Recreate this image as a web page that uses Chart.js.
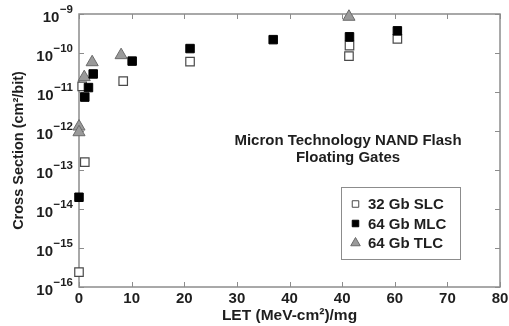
<!DOCTYPE html>
<html><head><meta charset="utf-8">
<script src="https://cdn.jsdelivr.net/npm/chart.js@4/dist/chart.umd.min.js"></script>
<style>html,body{margin:0;padding:0;background:#fff}</style>
</head><body>
<canvas id="c" width="509" height="326"></canvas>
<script>
// ---- data ----
const xTickValues = [0, 10, 20, 30, 40, 50, 60, 70, 80];
const xTickLabels = ['0', '10', '20', '30', '40', '40', '60', '70', '80'];
const yTickExponents = [-16, -15, -14, -13, -12, -11, -10, -9];

const seriesNames = ['32 Gb SLC', '64 Gb MLC', '64 Gb TLC'];

const slcLET = [0, 1.1, 0.6, 8.4, 21.1, 51.3, 51.4, 60.5];
const slcXS  = [2.4e-16, 1.6e-13, 1.4e-11, 1.9e-11, 6e-11, 8.3e-11, 1.55e-10, 2.3e-10];

const mlcLET = [0, 1.1, 1.8, 2.7, 10.1, 21.1, 36.9, 51.4, 60.5];
const mlcXS  = [2.0e-14, 7.4e-12, 1.3e-11, 2.9e-11, 6.2e-11, 1.3e-10, 2.2e-10, 2.6e-10, 3.7e-10];

const tlcLET = [0, 0, 1.0, 2.5, 8.0, 51.3];
const tlcXS  = [1.3e-12, 9.3e-13, 2.4e-11, 5.8e-11, 8.8e-11, 8.5e-10];

const noteLines = ['Micron Technology NAND Flash', 'Floating Gates'];
const xTitle = 'LET (MeV-cm\u00B2)/mg';
const yTitle = 'Cross Section (cm\u00B2/bit)';

const pts = (xs, ys) => xs.map((v, i) => ({x: v, y: ys[i]}));
const FONT = '"Liberation Sans", Arial, Helvetica, sans-serif';
const TXT = '#1e1e1e';

const decor = {
  id: 'decor',
  beforeDatasetsDraw(chart) {
    const {ctx, chartArea: a, scales: {x, y}} = chart;
    ctx.save();
    ctx.strokeStyle = '#8c8c8c';
    ctx.lineWidth = 1.5;
    ctx.strokeRect(a.left, a.top, a.right - a.left, a.bottom - a.top);
    ctx.lineWidth = 1;
    const L = 5;
    ctx.beginPath();
    xTickValues.forEach(v => {
      const px = Math.round(x.getPixelForValue(v)) + 0.5;
      ctx.moveTo(px, a.bottom); ctx.lineTo(px, a.bottom - L);
      ctx.moveTo(px, a.top); ctx.lineTo(px, a.top + L);
    });
    yTickExponents.forEach(e => {
      const py = Math.round(y.getPixelForValue(Math.pow(10, e))) + 0.5;
      ctx.moveTo(a.left, py); ctx.lineTo(a.left + L, py);
      ctx.moveTo(a.right, py); ctx.lineTo(a.right - L, py);
    });
    ctx.stroke();
    ctx.restore();
  },
  afterDraw(chart) {
    const {ctx, chartArea: a, scales: {x, y}} = chart;
    ctx.save();
    ctx.fillStyle = TXT;
    ctx.textBaseline = 'middle';
    // x tick labels
    ctx.font = 'bold 15px ' + FONT;
    ctx.textAlign = 'center';
    xTickValues.forEach((v, i) => {
      ctx.fillText(xTickLabels[i], x.getPixelForValue(v), a.bottom + 11.5);
    });
    // y tick labels with superscript exponents
    yTickExponents.forEach(e => {
      const py = y.getPixelForValue(Math.pow(10, e));
      const sup = '\u2212' + Math.abs(e);
      ctx.font = 'bold 11.5px ' + FONT;
      const sw = ctx.measureText(sup).width;
      const right = a.left - 6;
      ctx.textAlign = 'left';
      ctx.fillText(sup, right - sw, py - 4);
      ctx.font = 'bold 15px ' + FONT;
      ctx.textAlign = 'right';
      ctx.fillText('10', right - sw - 0.5, py + 3.5);
    });
    // axis titles
    ctx.textAlign = 'center';
    ctx.font = 'bold 15.5px ' + FONT;
    ctx.fillText(xTitle, (a.left + a.right) / 2, 316);
    ctx.save();
    ctx.font = 'bold 14.5px ' + FONT;
    ctx.translate(19, (a.top + a.bottom) / 2);
    ctx.rotate(-Math.PI / 2);
    ctx.fillText(yTitle, 0, 0);
    ctx.restore();
    // annotation
    ctx.font = 'bold 15px ' + FONT;
    ctx.fillText(noteLines[0], 348, 141);
    ctx.fillText(noteLines[1], 348, 158);
    // legend box
    ctx.fillStyle = '#fff';
    ctx.fillRect(341, 187, 119, 72);
    ctx.strokeStyle = '#8c8c8c';
    ctx.lineWidth = 1;
    ctx.strokeRect(341.5, 187.5, 119, 72);
    chart.data.datasets.forEach((ds, i) => {
      const ry = 204 + i * 19.5;
      ctx.fillStyle = ds.backgroundColor;
      ctx.strokeStyle = ds.borderColor;
      ctx.lineWidth = 1;
      Chart.helpers.drawPoint(ctx, {pointStyle: ds.pointStyle, radius: ds.pointStyle === 'triangle' ? 5.5 : 4.6, borderWidth: 1, rotation: 0}, 355.5, ry);
      ctx.fillStyle = TXT;
      ctx.textAlign = 'left';
      ctx.font = 'bold 15px ' + FONT;
      ctx.fillText(ds.label, 368, ry + 1);
    });
    ctx.restore();
  }
};

new Chart(document.getElementById('c'), {
  type: 'scatter',
  data: {
    datasets: [
      {label: seriesNames[0], data: pts(slcLET, slcXS), pointStyle: 'rect', pointRadius: 6,
       backgroundColor: '#ffffff', borderColor: '#4a4a4a', borderWidth: 1.2, order: 1, clip: false},
      {label: seriesNames[1], data: pts(mlcLET, mlcXS), pointStyle: 'rect', pointRadius: 6,
       backgroundColor: '#000000', borderColor: '#000000', borderWidth: 1, order: 0, clip: false},
      {label: seriesNames[2], data: pts(tlcLET, tlcXS), pointStyle: 'triangle', pointRadius: 7,
       backgroundColor: '#9a9a9a', borderColor: '#6a6a6a', borderWidth: 1, order: 2, clip: false}
    ]
  },
  options: {
    responsive: false,
    animation: false,
    layout: {padding: {top: 14, right: 9, left: 0, bottom: 0}},
    plugins: {legend: {display: false}, tooltip: {enabled: false}},
    scales: {
      x: {
        type: 'linear', min: 0, max: 80,
        grid: {display: false}, border: {display: false},
        afterFit: s => { s.height = 39; },
        ticks: {display: false, stepSize: 10}
      },
      y: {
        type: 'logarithmic', min: 1e-16, max: 1e-9,
        grid: {display: false}, border: {display: false},
        afterFit: s => { s.width = 79; },
        ticks: {display: false}
      }
    }
  },
  plugins: [decor]
});
</script>
</body></html>
